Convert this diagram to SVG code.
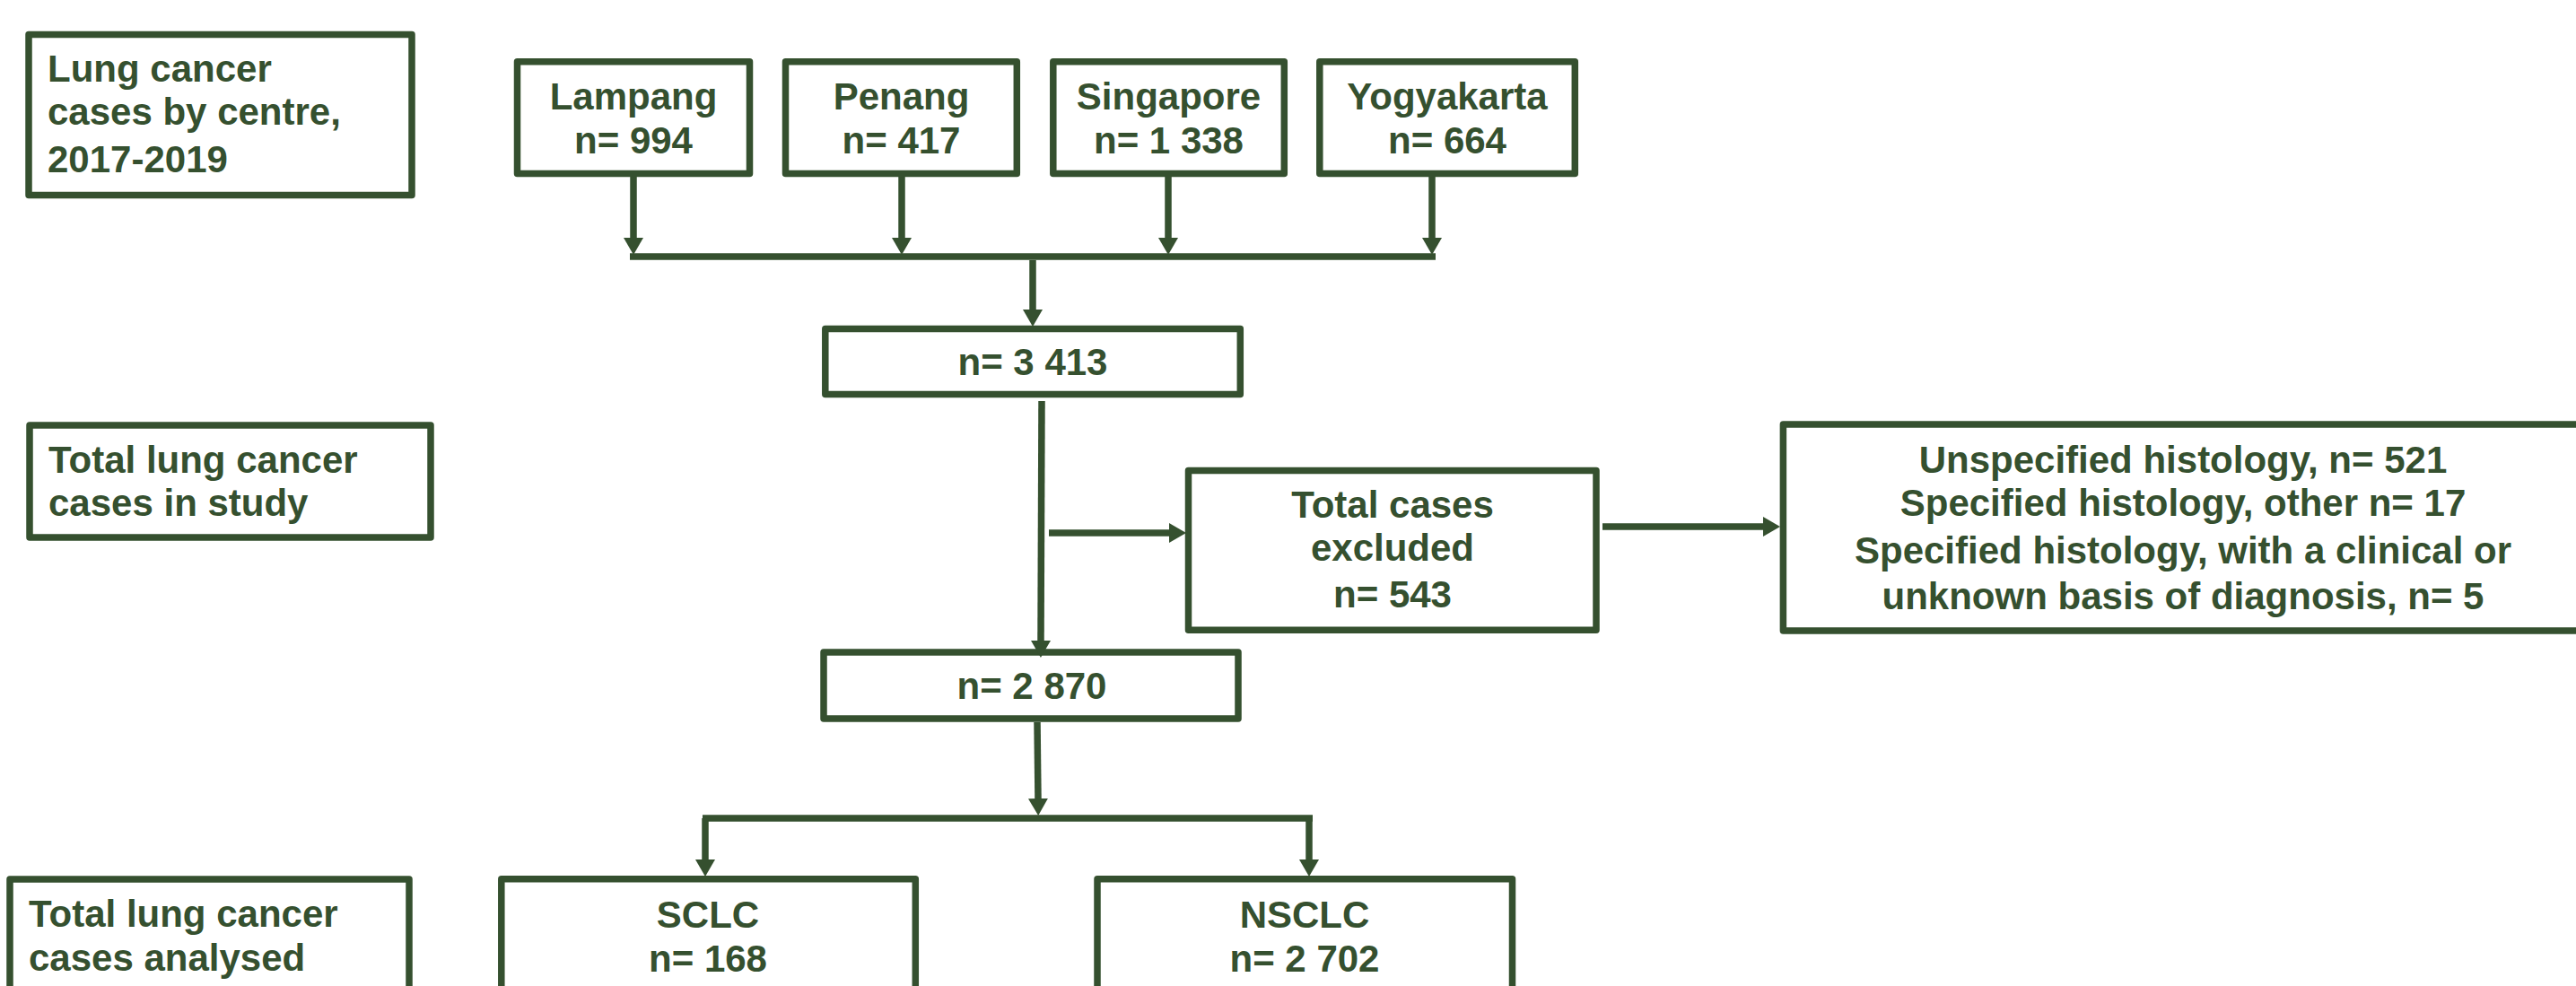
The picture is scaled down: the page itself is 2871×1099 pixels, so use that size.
<svg xmlns="http://www.w3.org/2000/svg" width="2871" height="1099" viewBox="0 0 2871 1099">
<style>
.box{fill:#ffffff;stroke:#35502f;stroke-width:7.5;stroke-linejoin:round}
.t{font-family:"Liberation Sans",Arial,sans-serif;font-weight:bold;font-size:42px;fill:#35502f}
.c{text-anchor:middle}
.ln{fill:none;stroke:#35502f;stroke-width:7.5}
.ar{fill:none;stroke:#35502f;stroke-width:7.5;marker-end:url(#ah)}
</style>
<defs>
<marker id="ah" markerUnits="userSpaceOnUse" markerWidth="20" markerHeight="22" refX="2" refY="11" orient="auto" viewBox="0 0 20 22">
<path d="M0,0 L19,11 L0,22 z" fill="#35502f"/>
</marker>
</defs>
<rect width="2871" height="1099" fill="#ffffff"/>

<g id="label-centre">
<rect class="box" x="32" y="38.5" width="427" height="179"/>
<text class="t" x="53" y="91">Lung cancer</text>
<text class="t" x="53" y="139">cases by centre,</text>
<text class="t" x="53" y="192">2017-2019</text>
</g>
<g id="label-study">
<rect class="box" x="33" y="474" width="447" height="125"/>
<text class="t" x="54" y="527">Total lung cancer</text>
<text class="t" x="54" y="575">cases in study</text>
</g>
<g id="label-analysed">
<rect class="box" x="11" y="980" width="445" height="200"/>
<text class="t" x="32" y="1033">Total lung cancer</text>
<text class="t" x="32" y="1082">cases analysed</text>
</g>

<g id="lampang">
<rect class="box" x="576.5" y="68.8" width="259" height="124.8"/>
<text class="t c" x="706" y="122">Lampang</text>
<text class="t c" x="706" y="171">n= 994</text>
</g>
<g id="penang">
<rect class="box" x="875.5" y="68.8" width="257.8" height="124.8"/>
<text class="t c" x="1004.5" y="122">Penang</text>
<text class="t c" x="1004.5" y="171">n= 417</text>
</g>
<g id="singapore">
<rect class="box" x="1173.8" y="68.8" width="257.5" height="124.8"/>
<text class="t c" x="1302.5" y="122">Singapore</text>
<text class="t c" x="1302.5" y="171">n= 1 338</text>
</g>
<g id="yogyakarta">
<rect class="box" x="1470.8" y="68.8" width="284.5" height="124.8"/>
<text class="t c" x="1613" y="122">Yogyakarta</text>
<text class="t c" x="1613" y="171">n= 664</text>
</g>

<g id="total">
<rect class="box" x="919.8" y="366.5" width="462.5" height="73"/>
<text class="t c" x="1151" y="418">n= 3 413</text>
</g>
<g id="excluded">
<rect class="box" x="1324.5" y="524.5" width="454.5" height="177.8"/>
<text class="t c" x="1552" y="577">Total cases</text>
<text class="t c" x="1552" y="625">excluded</text>
<text class="t c" x="1552" y="677">n= 543</text>
</g>
<g id="excluded-detail">
<rect class="box" x="1987.4" y="473" width="900" height="230"/>
<text class="t c" x="2433" y="527">Unspecified histology, n= 521</text>
<text class="t c" x="2433" y="575">Specified histology, other n= 17</text>
<text class="t c" x="2433" y="628">Specified histology, with a clinical or</text>
<text class="t c" x="2433" y="679">unknown basis of diagnosis, n= 5</text>
</g>
<g id="included">
<rect class="box" x="918" y="727" width="462" height="74"/>
<text class="t c" x="1150" y="779">n= 2 870</text>
</g>
<g id="sclc">
<rect class="box" x="558.8" y="979.8" width="461.5" height="200"/>
<text class="t c" x="789" y="1034">SCLC</text>
<text class="t c" x="789" y="1083">n= 168</text>
</g>
<g id="nsclc">
<rect class="box" x="1223" y="979.8" width="462.5" height="200"/>
<text class="t c" x="1454" y="1034">NSCLC</text>
<text class="t c" x="1454" y="1083">n= 2 702</text>
</g>

<g id="connectors">
<path class="ar" d="M706,197 V267"/>
<path class="ar" d="M1005,197 V267"/>
<path class="ar" d="M1302,197 V267"/>
<path class="ar" d="M1596,197 V267"/>
<path class="ln" d="M702,286 H1600"/>
<path class="ar" d="M1151,290 V347"/>
<path class="ar" d="M1161,447 L1160,716"/>
<path class="ar" d="M1169,594 H1305"/>
<path class="ar" d="M1786,587 H1967"/>
<path class="ar" d="M1156,805 L1157,892"/>
<path class="ln" d="M783,912 H1463"/>
<path class="ar" d="M786,912 V960"/>
<path class="ar" d="M1459,912 V960"/>
</g>
</svg>
